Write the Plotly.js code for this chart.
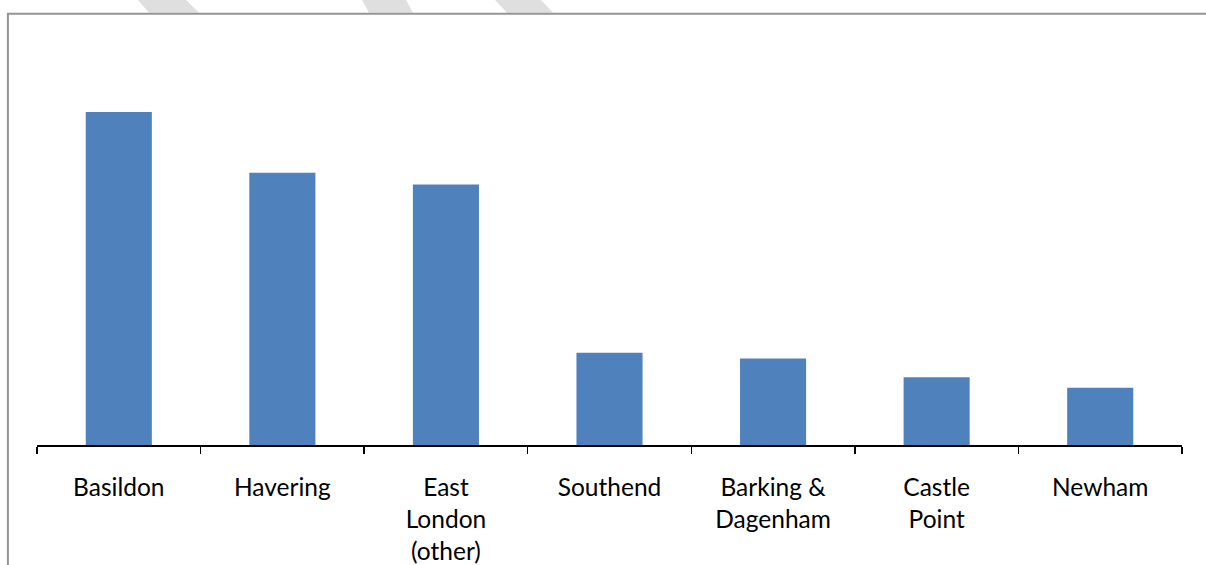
<!DOCTYPE html>
<html>
<head>
<meta charset="utf-8">
<script src="https://cdn.plot.ly/plotly-3.0.1.min.js"></script>
<style>
  html, body { margin: 0; padding: 0; background: #ffffff; }
  #chart { width: 1206px; height: 565px; }
</style>
</head>
<body>
<div id="chart"></div>
<script>
// Share by area (%)
var areas = ["Basildon", "Havering", "East<br>London<br>(other)", "Southend",
             "Barking &<br>Dagenham", "Castle<br>Point", "Newham"];
var shares = [28.5, 23.3, 22.3, 7.9, 7.4, 5.8, 4.9];

// Page geometry
var W = 1206, H = 565;
var M = { l: 37, r: 24, t: 36, b: 120 };
var plotW = W - M.l - M.r, plotH = H - M.t - M.b;
function pxX(x) { return (x - M.l) / plotW; }
function pxY(y) { return (H - M.b - y) / plotH; }

// Frame lines along the top and left edge
var frame = [
  { type: "line", xref: "paper", yref: "paper", x0: pxX(7), x1: pxX(1206), y0: pxY(13.7), y1: pxY(13.7),
    line: { color: "#959595", width: 2 } },
  { type: "line", xref: "paper", yref: "paper", x0: pxX(7.9), x1: pxX(7.9), y0: pxY(13), y1: pxY(565),
    line: { color: "#959595", width: 2 } }
];

// Light slanted bands above the frame
var bands = [[138, 186, 149, 199], [362, 406, 369, 413], [495, 541, 507, 553]];
var bandShapes = bands.map(function (b) {
  var p = "M " + pxX(b[0]) + "," + pxY(0) + " L " + pxX(b[1]) + "," + pxY(0) +
          " L " + pxX(b[3]) + "," + pxY(12.7) + " L " + pxX(b[2]) + "," + pxY(12.7) + " Z";
  return { type: "path", xref: "paper", yref: "paper", path: p,
           fillcolor: "#dfdfdf", line: { width: 0 }, layer: "below" };
});

var trace = {
  type: "bar",
  x: areas,
  y: shares,
  marker: { color: "#4F81BD", line: { width: 0 } },
  hoverinfo: "x+y"
};

var layout = {
  width: W, height: H,
  margin: M,
  paper_bgcolor: "#ffffff",
  plot_bgcolor: "#ffffff",
  bargap: 0.596,
  showlegend: false,
  font: { family: "Lato, Calibri, 'Noto Sans', sans-serif", size: 24, color: "#000000" },
  xaxis: {
    type: "category",
    range: [-0.5, areas.length - 0.5],
    showline: true, linecolor: "#000000", linewidth: 2,
    ticks: "outside", tickson: "boundaries", ticklen: 7, tickwidth: 1.5, tickcolor: "#000000",
    ticklabelstandoff: 20,
    showgrid: false, zeroline: false, fixedrange: true,
    tickfont: { family: "Lato, Calibri, sans-serif", size: 24.5, color: "#000000" }
  },
  yaxis: {
    range: [0, 35],
    visible: false, showgrid: false, zeroline: false, fixedrange: true
  },
  shapes: bandShapes.concat(frame)
};

Plotly.newPlot("chart", [trace], layout, { displayModeBar: false, staticPlot: true });
</script>
</body>
</html>
